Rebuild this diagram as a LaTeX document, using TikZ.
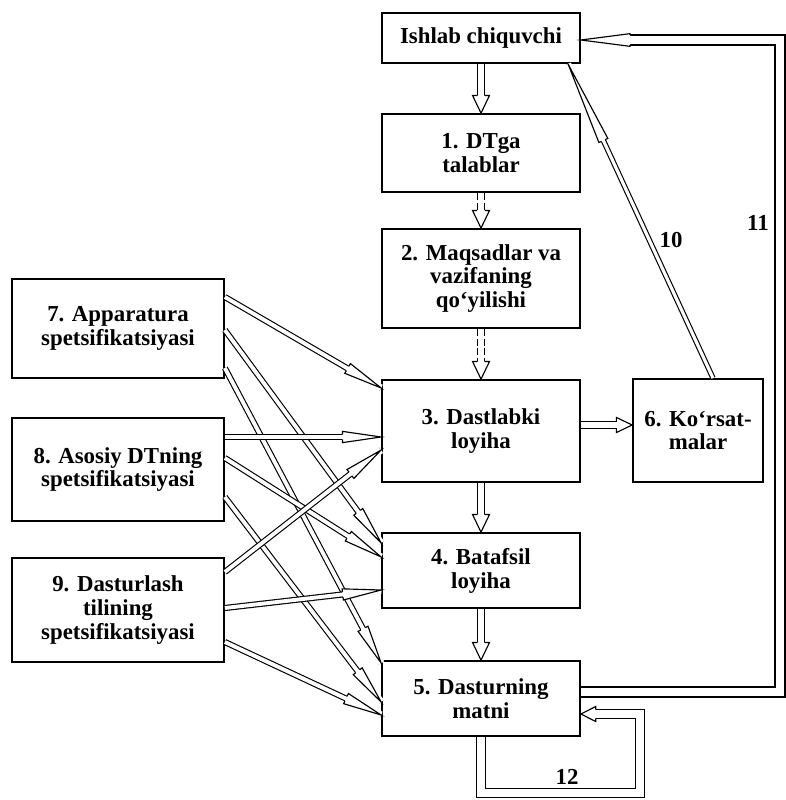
\documentclass[tikz,border=0pt]{standalone}
\usepackage{fontspec}
\setmainfont{Liberation Serif}
\usetikzlibrary{decorations.markings}

\tikzset{
  block/.style={draw, line width=1pt, align=center, inner sep=1pt,
    font=\fontsize{13}{13.6}\selectfont\bfseries},
  num/.style={font=\fontsize{13}{13.6}\selectfont\bfseries, inner sep=0pt},
  pipe/.style={draw, double=white, double distance=#1, line width=0.65pt, line join=miter},
  pipe/.default=2.2pt,
  tip/.style n args={3}{postaction={decorate, decoration={markings,
    mark=at position 1 with {
      \fill[white] (-#1,-#3-0.6pt) rectangle (0,#3+0.6pt);
      \fill[white] (-#1,#2) -- (0,0) -- (-#1,-#2) -- cycle;
      \draw[solid, line width=0.65pt, line join=miter]
        (-#1,#3) -- (-#1,#2) -- (0,0) -- (-#1,-#2) -- (-#1,-#3);}}}},
  gappy/.style={dash pattern=on 4pt off 1.5pt},
  down/.style={pipe=3.8pt, tip={10pt}{4.8pt}{2.2pt}},
  side/.style={pipe, tip={22pt}{3.2pt}{1.4pt}}
}

\begin{document}
\begin{tikzpicture}[x=0.02cm, y=-0.02cm]
  \useasboundingbox (0,0) rectangle (785,800);

  % centre column
  \node[block, minimum width=3.96cm, minimum height=1.0cm] (maker) at (481,38) {Ishlab chiquvchi};
  \node[block, minimum width=3.96cm, minimum height=1.56cm] (req) at (481,153) {1. DTga\\talablar};
  \node[block, minimum width=3.96cm, minimum height=1.98cm] (goal) at (481,278.5) {2. Maqsadlar va\\vazifaning\\qo‘yilishi};
  \node[block, minimum width=3.96cm, minimum height=2.04cm] (pre) at (481,431) {3. Dastlabki\\loyiha};
  \node[block, minimum width=3.96cm, minimum height=1.5cm] (det) at (481,570.5) {4. Batafsil\\loyiha};
  \node[block, minimum width=3.96cm, minimum height=1.5cm] (code) at (481,698.5) {5. Dasturning\\matni};
  \node[block, minimum width=2.6cm, minimum height=2.06cm] (show) at (698,430.5) {6. Ko‘rsat-\\malar};

  % left column
  \node[block, minimum width=4.24cm, minimum height=1.98cm] (hw) at (118,328.5) {7. Apparatura\\spetsifikatsiyasi};
  \node[block, minimum width=4.24cm, minimum height=2.06cm] (os) at (118,469.5) {8. Asosiy DTning\\spetsifikatsiyasi};
  \node[block, minimum width=4.24cm, minimum height=2.08cm] (lang) at (118,610) {9. Dasturlash\\tilining\\spetsifikatsiyasi};

  \draw[down] (maker) -- (req);
  \draw[down, gappy] (req) -- (goal);
  \draw[down, gappy] (goal) -- (pre);
  \draw[down] (pre) -- (det);
  \draw[down] (det) -- (code);
  \draw[pipe=2.9pt, tip={9pt}{4.3pt}{1.75pt}] (pre.east |- 0,425) -- (show.west |- 0,425);

  \draw[side] (hw.east |- 0,297) -- (pre.west |- 0,388);
  \draw[side] (hw.east |- 0,330) -- (det.west |- 0,543);
  \draw[side] (hw.east |- 0,368) -- (code.west |- 0,663);
  \draw[side] (os.east |- 0,437) -- (pre.west |- 0,437);
  \draw[side] (os.east |- 0,458) -- (det.west |- 0,557);
  \draw[side] (os.east |- 0,497) -- (code.west |- 0,702);
  \draw[side] (lang.east |- 0,572) -- (pre.west |- 0,450);
  \draw[side] (lang.east |- 0,608) -- (det.west |- 0,590);
  \draw[side] (lang.east |- 0,642) -- (code.west |- 0,715);

  % feedback
  \draw[pipe=1.8pt, tip={48pt}{2.8pt}{1.2pt}] (show.north -| 713,0) -- (maker.south -| 568,0);
  \draw[pipe=5pt, tip={28pt}{3.6pt}{2.8pt}] (code.east |- 0,692) -| (780,40) -- (maker.east |- 0,40);
  \draw[pipe=4.5pt, tip={8.5pt}{4.3pt}{2.55pt}] (code.south) -- (code.south |- 0,793) -| (640,714) -- (code.east |- 0,714);

  \node[num] (n10) at (671,240) {10};
  \node[num] (n11) at (758,223) {11};
  \node[num] (n12) at (567,777) {12};
\end{tikzpicture}
\end{document}
